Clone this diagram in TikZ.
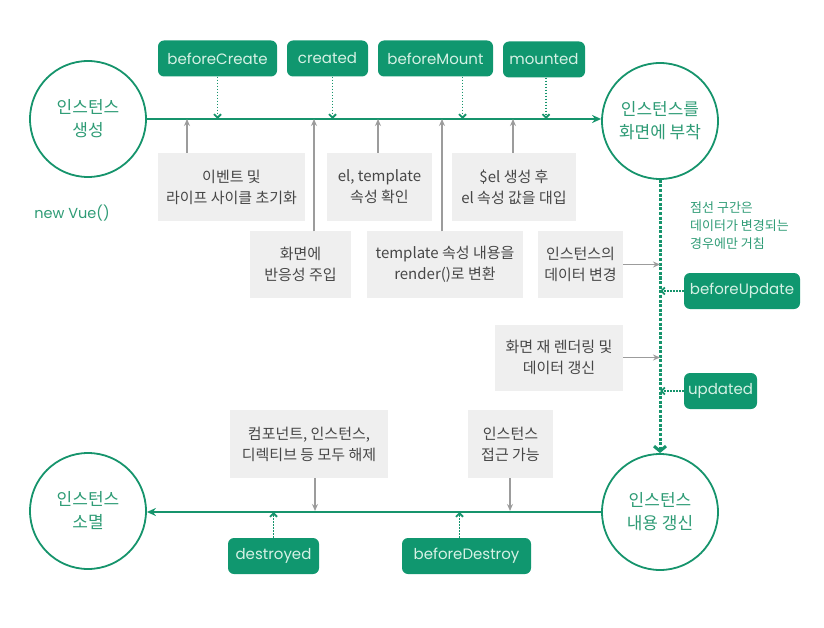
\documentclass[tikz,border=0pt]{standalone}
\usepackage{fontspec}
\setmainfont{Noto Sans CJK KR}
\newfontfamily\hookfont{Poppins}
\usetikzlibrary{arrows.meta}
\definecolor{vuegreen}{HTML}{16946C}
\definecolor{boxgreen}{HTML}{10976F}
\definecolor{boxtext}{HTML}{D6F1E5}
\definecolor{ctext}{HTML}{2E9B75}
\definecolor{notegray}{HTML}{EFEFEF}
\definecolor{grayline}{HTML}{9C9C9C}
\definecolor{graytext}{HTML}{474747}
\begin{document}
\begin{tikzpicture}[x=1pt, y=-1pt,
    state/.style={circle, draw=vuegreen, line width=1.8pt, minimum size=116pt, inner sep=0pt, align=center, text=ctext, font=\fontsize{17}{23}\selectfont},
    hook/.style={rectangle, rounded corners=6pt, fill=boxgreen, text=boxtext, minimum height=36pt, inner sep=0pt, font=\hookfont\fontsize{15}{17}\selectfont},
    note/.style={rectangle, fill=notegray, text=graytext, minimum height=66pt, inner sep=0pt, align=center, font=\fontsize{15}{21}\selectfont},
    flow/.style={line width=1.6pt, draw=vuegreen, -{Stealth[length=9pt, width=8pt]}},
    hookarrow/.style={line width=1.8pt, draw=vuegreen, dash pattern=on 1.8pt off 1.2pt, -{Straight Barb[length=3.5pt, width=7pt]}},
    update/.style={line width=3pt, draw=vuegreen, dash pattern=on 3pt off 1.6pt, -{Straight Barb[length=5pt, width=12pt]}},
    cause/.style={line width=1.3pt, draw=grayline, -{Stealth[length=7pt, width=6pt]}}
  ]
    \useasboundingbox (0,0) rectangle (824,628);

    % 인스턴스 상태
    \node[state] (create) at (88,119) {인스턴스\\생성};
    \node[state] (mount) at (660,121) {인스턴스를\\화면에 부착};
    \node[state] (renew) at (660,512) {인스턴스\\내용 갱신};
    \node[state] (gone) at (88,511) {인스턴스\\소멸};

    \node[text=ctext, font=\hookfont\fontsize{14.5}{16}\selectfont] (newvue) at (72,213) {new Vue()};
    \node[text=ctext, align=left, anchor=north west, inner sep=0pt, font=\fontsize{13}{18}\selectfont] (dashnote) at (690,202) {점선 구간은\\데이터가 변경되는\\경우에만 거침};

    % 라이프사이클 훅
    \node[hook, minimum width=119pt] (bcreate) at (217.5,58.5) {beforeCreate};
    \node[hook, minimum width=81pt] (created) at (327.5,58.5) {created};
    \node[hook, minimum width=115pt] (bmount) at (435.5,58.5) {beforeMount};
    \node[hook, minimum width=82pt] (mounted) at (544,59.5) {mounted};
    \node[hook, minimum width=116pt] (bupdate) at (742,291) {beforeUpdate};
    \node[hook, minimum width=73pt] (updated) at (720.5,391) {updated};
    \node[hook, minimum width=91pt] (destroyed) at (273.5,556) {destroyed};
    \node[hook, minimum width=129pt] (bdestroy) at (466.5,556) {beforeDestroy};

    % 설명 상자
    \node[note, minimum width=147pt, minimum height=68pt] (initev) at (231.5,187) {이벤트 및\\라이프 사이클 초기화};
    \node[note, minimum width=105pt, minimum height=68pt] (eltpl) at (379.5,187) {el, template\\속성 확인};
    \node[note, minimum width=124pt, minimum height=68pt] (elset) at (514,187) {\$el 생성 후\\el 속성 값을 대입};
    \node[note, minimum width=101pt] (reactive) at (300.5,264.5) {화면에\\반응성 주입};
    \node[note, minimum width=156pt] (render) at (445,264.5) {template 속성 내용을\\render()로 변환};
    \node[note, minimum width=85pt] (datachg) at (580.5,264.5) {인스턴스의\\데이터 변경};
    \node[note, minimum width=128pt] (rerender) at (559,357.5) {화면 재 렌더링 및\\데이터 갱신};
    \node[note, minimum width=158pt, minimum height=68pt] (release) at (309,444) {컴포넌트, 인스턴스,\\디렉티브 등 모두 해제};
    \node[note, minimum width=85pt, minimum height=68pt] (access) at (510.5,444) {인스턴스\\접근 가능};

    % 선 위의 지점
    \coordinate (p1) at (187,119);
    \coordinate (p2) at (314,119);
    \coordinate (p3) at (378,119);
    \coordinate (p4) at (442,119);
    \coordinate (p5) at (513,119);
    \coordinate (q1) at (315,511);
    \coordinate (q2) at (510,511);

    % 화살표
    \draw[flow] (create.east) -- (create.east -| mount.west);
    \draw[flow] (renew.west) -- (renew.west -| gone.east);
    \draw[update] (mount.south) -- (renew.north);

    \draw[hookarrow] (bcreate.south) -- (bcreate.south |- create.east);
    \draw[hookarrow] ([xshift=5pt]created.south) -- ([xshift=5pt]created.south |- create.east);
    \draw[hookarrow] ([xshift=27pt]bmount.south) -- ([xshift=27pt]bmount.south |- create.east);
    \draw[hookarrow] ([xshift=2pt]mounted.south) -- ([xshift=2pt]mounted.south |- create.east);
    \draw[hookarrow] (bupdate.west) -- (bupdate.west -| mount.south);
    \draw[hookarrow] (updated.west) -- (updated.west -| mount.south);
    \draw[hookarrow] (destroyed.north) -- (destroyed.north |- renew.west);
    \draw[hookarrow] ([xshift=-7pt]bdestroy.north) -- ([xshift=-7pt]bdestroy.north |- renew.west);

    \draw[cause] (p1 |- initev.north) -- (p1);
    \draw[cause] (p2 |- reactive.north) -- (p2);
    \draw[cause] (p3 |- eltpl.north) -- (p3);
    \draw[cause] (p4 |- render.north) -- (p4);
    \draw[cause] (p5 |- elset.north) -- (p5);
    \draw[cause] (datachg.east) -- (datachg.east -| mount.south);
    \draw[cause] (rerender.east) -- (rerender.east -| mount.south);
    \draw[cause] (q1 |- release.south) -- (q1);
    \draw[cause] (q2 |- access.south) -- (q2);
  \end{tikzpicture}
\end{document}
